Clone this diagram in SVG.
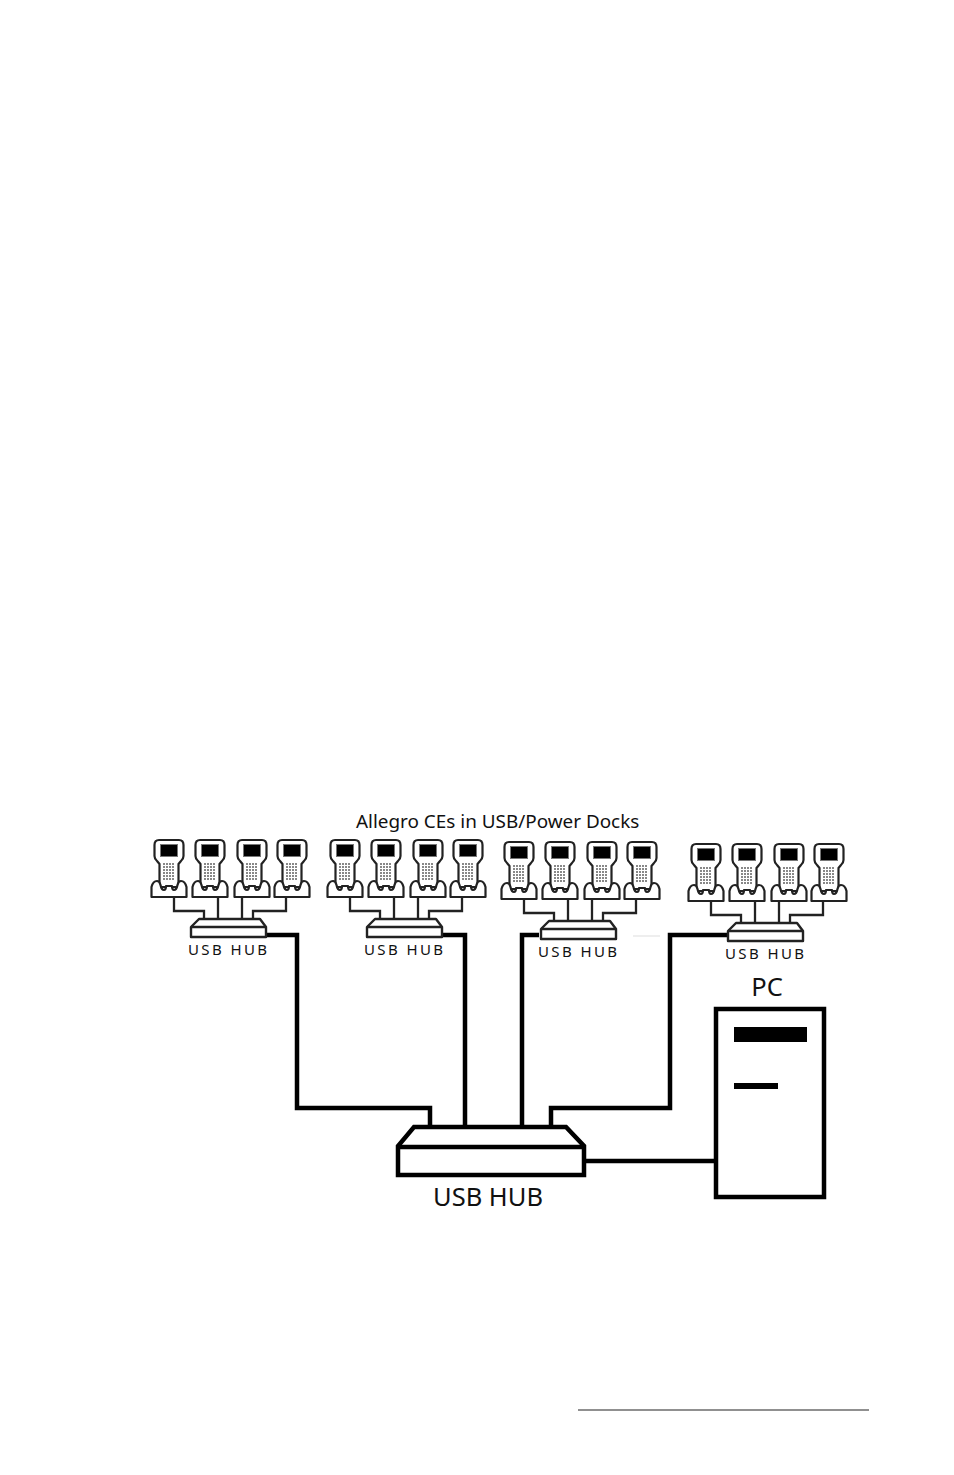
<svg xmlns="http://www.w3.org/2000/svg" xmlns:xlink="http://www.w3.org/1999/xlink" width="954" height="1475" viewBox="0 0 954 1475">
<style>
.w{fill:none;stroke:#000;stroke-width:4.5}
.t{fill:none;stroke:#222;stroke-width:2.3}
.o{fill:#fff;stroke:#222;stroke-width:2.2;stroke-linejoin:round}
.h{fill:#fff;stroke:#000;stroke-width:4.5}
.hs{fill:#fff;stroke:#222;stroke-width:2.4;stroke-linejoin:round}
text{font-family:"Noto Sans","DejaVu Sans",sans-serif;fill:#111}
.big{font-size:25.5px}
.sm{font-size:15px;letter-spacing:2.4px}
.ti{font-size:18.9px}
</style>
<defs>
<pattern id="keys" width="3" height="3" patternUnits="userSpaceOnUse"><rect width="3" height="3" fill="#fff"/><rect width="2" height="2" fill="#888"/></pattern>
<g id="dev">
<path class="o" d="M-10,1H10Q14.500,1 14.500,6V17Q14.500,20 12,22L9.500,25V48H-9.500V25L-12,22Q-14.500,20 -14.500,17V6Q-14.500,1 -10,1Z"/>
<rect x="-8.500" y="5.500" width="17" height="12" fill="#000" stroke="#777" stroke-width="1"/>
<rect x="-6" y="24" width="12" height="18" fill="url(#keys)"/>
<path class="o" d="M-17.500,48Q-16,42 -12,42Q-9.500,42 -8.500,46Q-7.500,51 -5,51Q-3,51 -3,47H3Q3,51 5,51Q7.500,51 8.500,46Q9.500,42 12,42Q16,42 17.500,48V58H-17.500Z"/>
</g>
<g id="group">
<use xlink:href="#dev" x="1" y="0"/>
<use xlink:href="#dev" x="42" y="0"/>
<use xlink:href="#dev" x="84" y="0"/>
<use xlink:href="#dev" x="124" y="0"/>
<path class="t" d="M6,59V72H36V80M50,59V80M74,59V80M118,59V72H85V80"/>
<path class="hs" d="M23,98V88L31,80H92L98,88V98Z"/>
<path class="hs" d="M23,88H98"/>
</g>
</defs>
<rect width="954" height="1475" fill="#fff"/>
<g id="connectors">
<path class="w" d="M267,935H297V1108H430V1126"/>
<path class="w" d="M443,935H465V1126"/>
<path class="w" d="M539,935H522V1126"/>
<path class="w" d="M727,935H670V1108H551V1126"/>
<path class="w" d="M585,1161H716"/>
</g>
<g id="docks-1"><use xlink:href="#group" x="168" y="839"/><text class="sm" x="188" y="955">USB HUB</text></g>
<g id="docks-2"><use xlink:href="#group" x="344" y="839"/><text class="sm" x="364" y="955">USB HUB</text></g>
<g id="docks-3"><use xlink:href="#group" x="518" y="841"/><text class="sm" x="538" y="957">USB HUB</text></g>
<g id="docks-4"><use xlink:href="#group" x="705" y="843"/><text class="sm" x="725" y="959">USB HUB</text></g>
<g id="title"><text class="ti" x="356" y="828">Allegro CEs in USB/Power Docks</text></g>
<g id="main-hub">
<path class="h" d="M398,1175V1146L414,1127H566L584,1146V1175Z"/>
<path class="h" d="M398,1147H584"/>
<text class="big" x="433" y="1206">USB HUB</text>
</g>
<g id="pc">
<rect class="h" x="716" y="1009" width="108" height="188"/>
<rect x="734" y="1027" width="73" height="15" fill="#000"/>
<rect x="734" y="1083" width="44" height="6" fill="#000"/>
<text class="big" x="767" y="996" text-anchor="middle">PC</text>
</g>
<path d="M633,936H660" stroke="#ddd" stroke-width="1"/>
<path d="M578,1410H869" stroke="#222" stroke-width="1.2"/>
</svg>
